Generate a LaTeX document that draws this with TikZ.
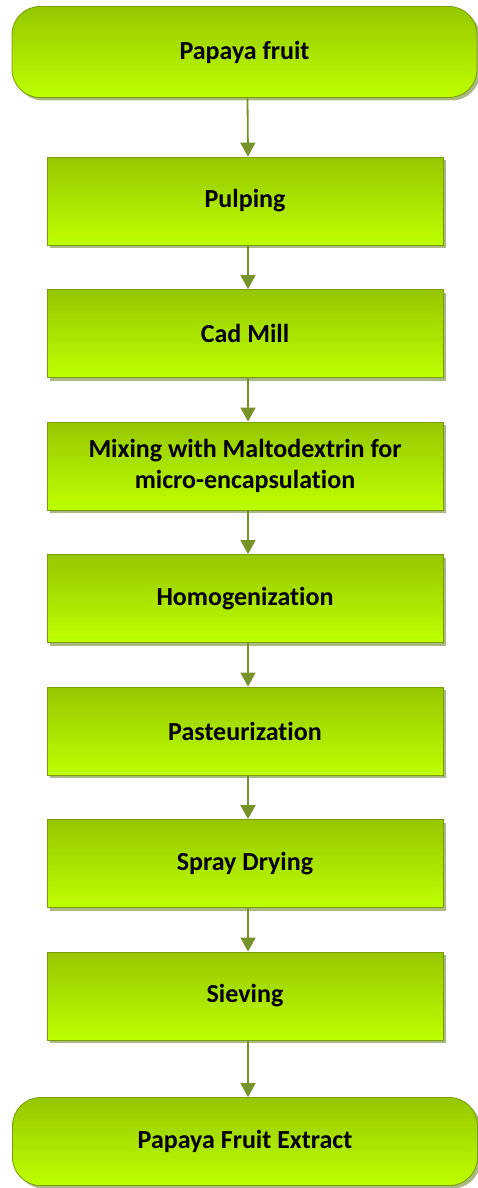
\documentclass[tikz,border=0pt]{standalone}
\usepackage{fontspec}
\setmainfont{Carlito}[Ligatures=NoCommon]
\usetikzlibrary{arrows.meta,shadows}
\definecolor{gtop}{RGB}{150,199,0}
\definecolor{gbot}{RGB}{190,255,0}
\definecolor{edgec}{RGB}{122,155,10}
\definecolor{arrc}{RGB}{118,146,40}
\definecolor{shadc}{RGB}{168,186,130}
\tikzset{
  base/.style={top color=gtop,bottom color=gbot,draw=edgec,line width=0.8pt,
    font=\fontsize{26}{31.5}\selectfont\bfseries,align=center,text=black,
    drop shadow={shadow xshift=3pt,shadow yshift=-3pt,fill=shadc,opacity=1}},
  proc/.style={base,minimum width=396pt,minimum height=88pt,inner sep=0pt},
  term/.style={base,rounded corners=28pt,minimum width=465pt,minimum height=91pt,inner sep=0pt},
  arr/.style={draw=arrc,line width=1.8pt,-{Triangle[width=15pt,length=14pt]}}
}
\begin{document}
\begin{tikzpicture}[x=1pt,y=-1pt]
\useasboundingbox (0,0) rectangle (478,1188);
\node[term] (t1) at (244.5,52) {Papaya fruit};
\node[proc] (p1) at (245,201) {Pulping};
\node[proc] (p2) at (245,333.5) {Cad Mill};
\node[proc] (p3) at (245,466) {Mixing with Maltodextrin for\\micro-encapsulation};
\node[proc] (p4) at (245,598.5) {Homogenization};
\node[proc] (p5) at (245,731) {Pasteurization};
\node[proc] (p6) at (245,863.5) {Spray Drying};
\node[proc] (p7) at (245,996) {Sieving};
\node[term,minimum height=88pt] (t2) at (245,1141.5) {Papaya Fruit Extract};
\foreach \a/\b in {t1/p1,p1/p2,p2/p3,p3/p4,p4/p5,p5/p6,p6/p7,p7/t2}
  \draw[arr] ([xshift=3pt]\a.south) -- ([xshift=3pt]\b.north);
\end{tikzpicture}
\end{document}
